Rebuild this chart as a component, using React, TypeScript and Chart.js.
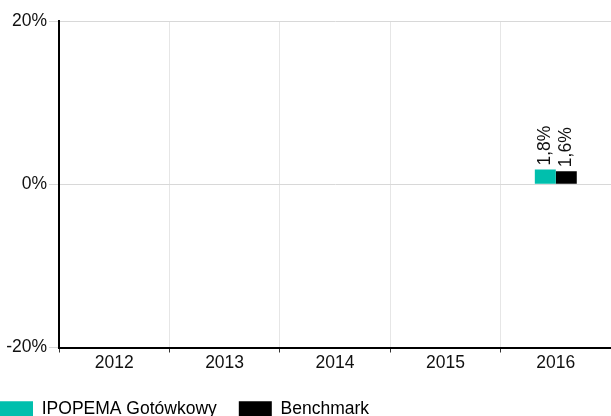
import React, { useEffect, useRef } from "react";
import { Chart, registerables } from "chart.js";

Chart.register(...registerables);

const categories = ["2012", "2013", "2014", "2015", "2016"];
const fundValues: (number | null)[] = [null, null, null, null, 1.8];
const benchmarkValues: (number | null)[] = [null, null, null, null, 1.6];
const fundLabel = "IPOPEMA Gotówkowy";
const benchmarkLabel = "Benchmark";
const yTicks = [-20, 0, 20];

const FONT = "'Liberation Sans', Arial, sans-serif";
const FS = 17.5;

const fmt = (v: number) => v.toFixed(1).replace(".", ",") + "%";

const dataLabelPlugin = {
  id: "dataLabels",
  afterDatasetsDraw(chart: any) {
    const ctx = chart.ctx;
    chart.data.datasets.forEach((ds: any, i: number) => {
      const meta = chart.getDatasetMeta(i);
      meta.data.forEach((bar: any, j: number) => {
        const v = ds.data[j];
        if (v === null || v === undefined) return;
        ctx.save();
        ctx.translate(bar.x, Math.min(bar.y, bar.base) - 4);
        ctx.rotate(-Math.PI / 2);
        ctx.font = `${FS}px ${FONT}`;
        ctx.fillStyle = "#111";
        ctx.textAlign = "left";
        ctx.textBaseline = "middle";
        ctx.fillText(fmt(v), 0, 0);
        ctx.restore();
      });
    });
  },
};

const legendShiftPlugin = {
  id: "legendShift",
  afterLayout(chart: any) {
    if (chart.legend) {
      chart.legend.left -= 22;
      chart.legend.top += 5;
    }
  },
};

export default function App() {
  const ref = useRef<HTMLCanvasElement>(null);
  useEffect(() => {
    document.body.style.margin = "0";
    const chart = new Chart(ref.current!, {
      type: "bar",
      data: {
        labels: categories,
        datasets: [
          {
            label: fundLabel,
            data: fundValues,
            backgroundColor: "#00bfad",
            categoryPercentage: 0.38,
            barPercentage: 1,
          },
          {
            label: benchmarkLabel,
            data: benchmarkValues,
            backgroundColor: "#000000",
            categoryPercentage: 0.38,
            barPercentage: 1,
          },
        ],
      },
      options: {
        responsive: false,
        animation: false,
        layout: { padding: { top: 21, right: 0, left: 0, bottom: 0 } },
        plugins: {
          legend: {
            position: "bottom",
            align: "start",
            labels: {
              boxWidth: 33,
              boxHeight: 16,
              padding: 22,
              color: "#000",
              font: { family: FONT, size: FS },
            },
          },
          tooltip: { enabled: false },
        },
        scales: {
          x: {
            offset: true,
            grid: {
              offset: true,
              color: "#e6e6e6",
              tickColor: "#333",
              tickLength: 5,
            },
            border: { color: "#000", width: 2 },
            ticks: {
              color: "#111",
              padding: 0,
              font: { family: FONT, size: FS },
            },
          },
          y: {
            min: -20,
            max: 20,
            afterFit(scale: any) {
              scale.width = 59;
            },
            afterBuildTicks(scale: any) {
              scale.ticks = yTicks.map((v) => ({ value: v }));
            },
            grid: { color: "#d8d8d8", tickLength: 10 },
            border: { color: "#000", width: 2 },
            ticks: {
              color: "#111",
              padding: 2,
              font: { family: FONT, size: FS },
              callback: (v: any) => v + "%",
            },
          },
        },
      },
      plugins: [dataLabelPlugin, legendShiftPlugin],
    });
    return () => chart.destroy();
  }, []);
  return (
    <div style={{ position: "absolute", left: 0, top: 0, width: 611, height: 423 }}>
      <canvas ref={ref} width={611} height={423} />
    </div>
  );
}
